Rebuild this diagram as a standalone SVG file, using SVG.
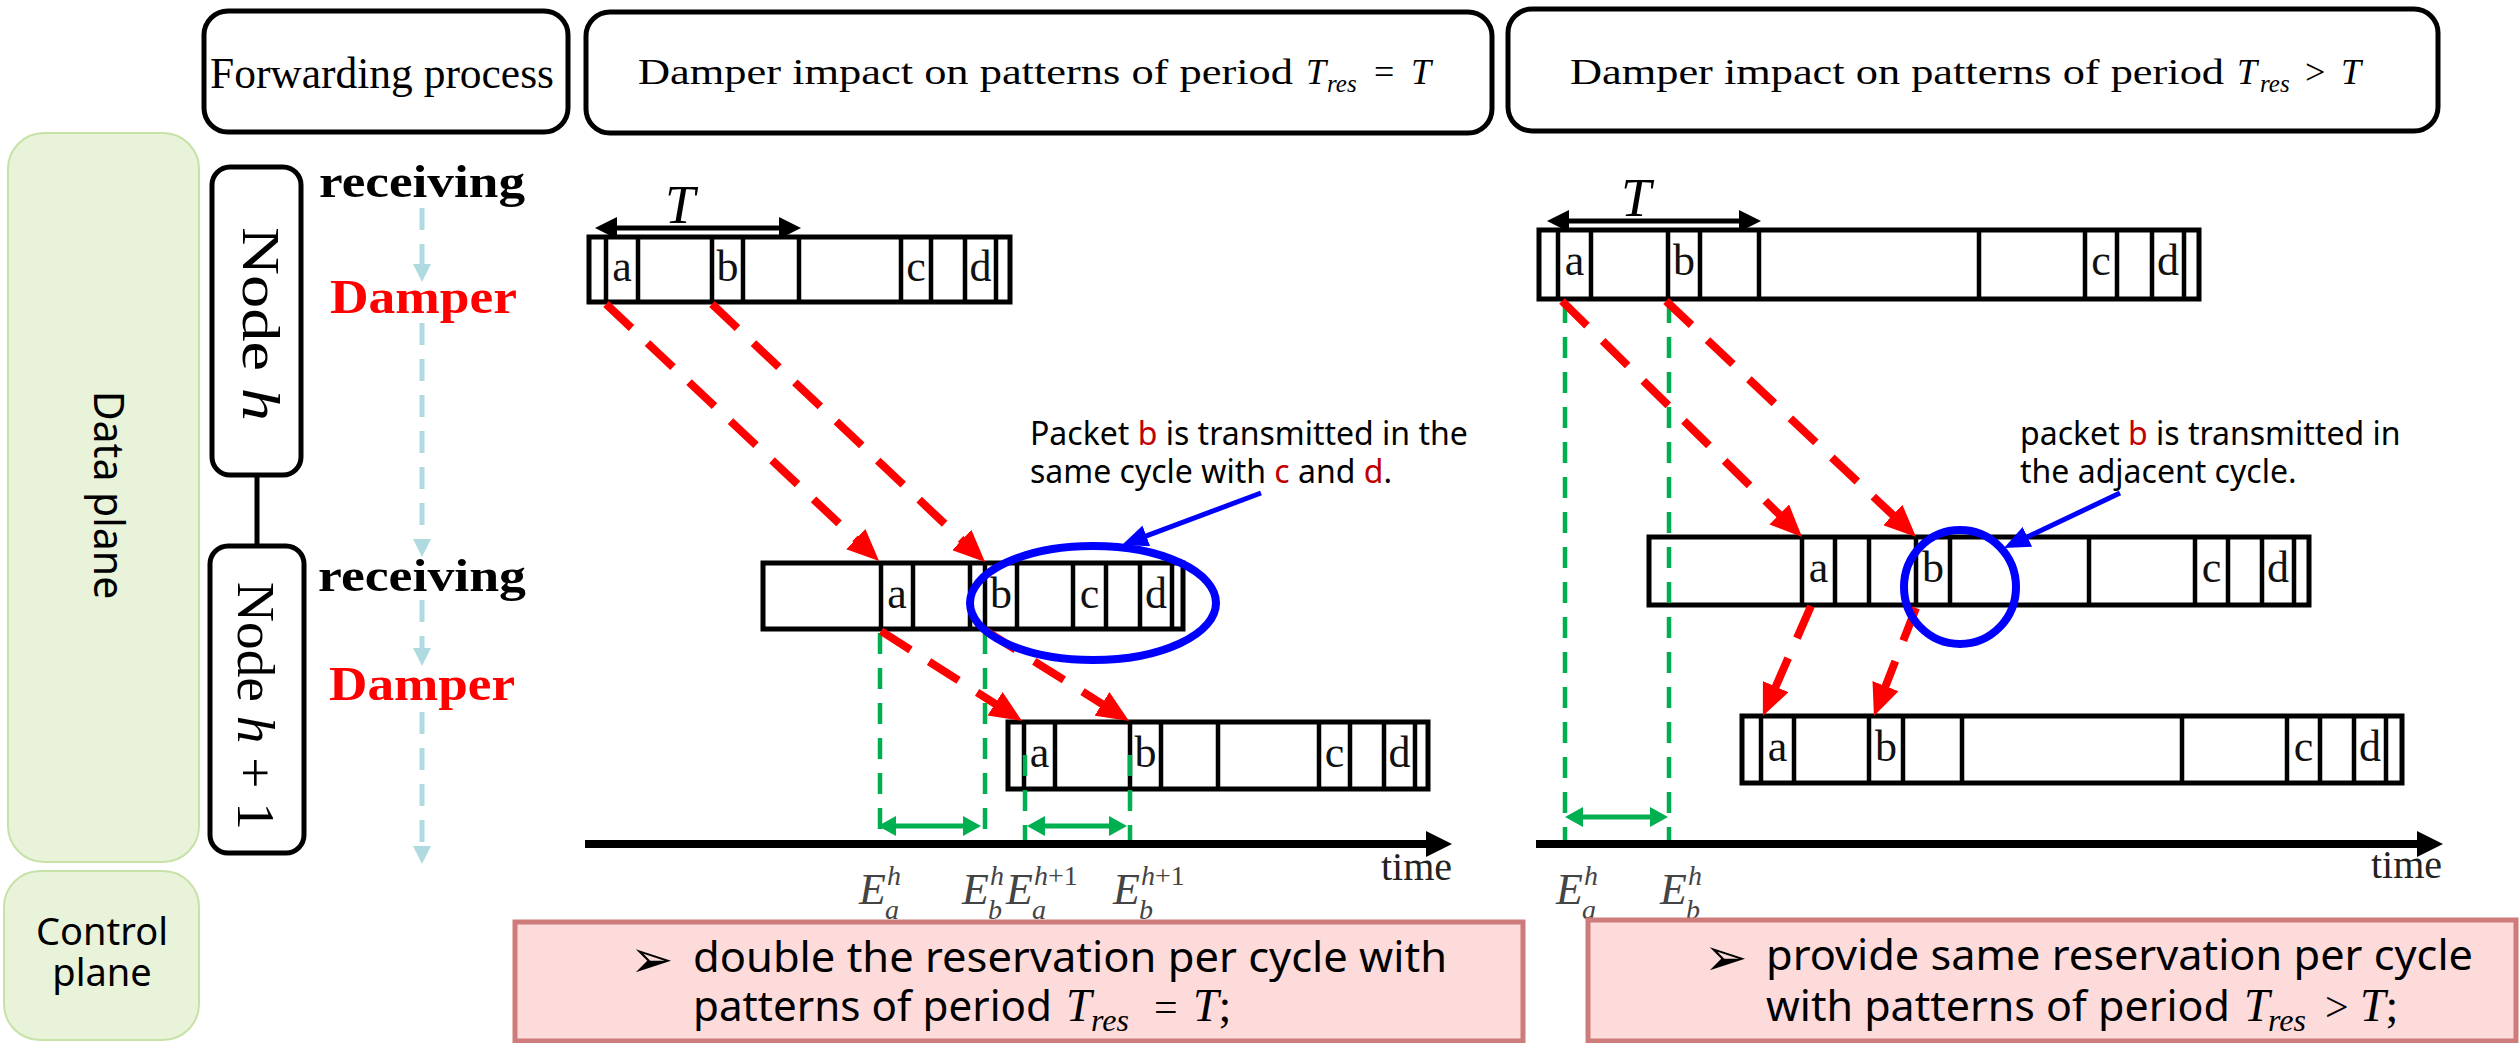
<svg xmlns="http://www.w3.org/2000/svg" width="2519" height="1043" viewBox="0 0 2519 1043">
<defs>
<style>
.hdr{fill:#fff;stroke:#000;stroke-width:5}
.plane{fill:#e8f3da;stroke:#c6e2a7;stroke-width:2}
.node{fill:#fff;stroke:#000;stroke-width:5}
.bar{fill:#fff;stroke:#000;stroke-width:5}
.cell{fill:none;stroke:#000;stroke-width:4.5}
.lt{font-family:"Liberation Serif","DejaVu Serif",serif;font-size:44px;text-anchor:middle;fill:#111}
.serif{font-family:"Liberation Serif","DejaVu Serif",serif}
.sans{font-family:"Noto Sans","Open Sans","DejaVu Sans",sans-serif}
.red{stroke:#ff0000;stroke-width:8;stroke-dasharray:35 22;fill:none}
.grn{stroke:#00b050;stroke-width:4.5;stroke-dasharray:21 14;fill:none}
.garr{stroke:#00b050;stroke-width:5;fill:none}
.blu{stroke:#0000ff;stroke-width:5;fill:none}
.ell{stroke:#0000ff;stroke-width:8;fill:none}
.lb{stroke:#afdadf;stroke-width:5;stroke-dasharray:22 14;fill:none}
.axis{stroke:#000;stroke-width:8;fill:none}
.tarr{stroke:#000;stroke-width:5;fill:none}
.pink{fill:#fddbdb;stroke:#cd7b7b;stroke-width:5}
.elab{font-family:"Liberation Serif","DejaVu Serif",serif;font-style:italic;fill:#444}
.dk{fill:#c00000}
</style>
<marker id="mRed" markerUnits="userSpaceOnUse" markerWidth="32" markerHeight="28" viewBox="0 0 32 28" refX="12" refY="14" orient="auto"><path d="M0,0 L32,14 L0,28 z" fill="#ff0000"/></marker>
<marker id="mBlue" markerUnits="userSpaceOnUse" markerWidth="26" markerHeight="22" viewBox="0 0 26 22" refX="12" refY="11" orient="auto"><path d="M0,0 L26,11 L0,22 z" fill="#0000ff"/></marker>
<marker id="mGrn" markerUnits="userSpaceOnUse" markerWidth="18" markerHeight="20" viewBox="0 0 18 20" refX="8" refY="10" orient="auto-start-reverse"><path d="M0,0 L18,10 L0,20 z" fill="#00b050"/></marker>
<marker id="mBlk" markerUnits="userSpaceOnUse" markerWidth="22" markerHeight="22" viewBox="0 0 22 22" refX="10" refY="11" orient="auto-start-reverse"><path d="M0,0 L22,11 L0,22 z" fill="#000"/></marker>
<marker id="mAxis" markerUnits="userSpaceOnUse" markerWidth="26" markerHeight="26" viewBox="0 0 26 26" refX="8" refY="13" orient="auto"><path d="M0,0 L26,13 L0,26 z" fill="#000"/></marker>
<marker id="mLb" markerUnits="userSpaceOnUse" markerWidth="18" markerHeight="18" viewBox="0 0 18 18" refX="8" refY="9" orient="auto"><path d="M0,0 L18,9 L0,18 z" fill="#afdadf"/></marker>
</defs>
<rect width="2519" height="1043" fill="#fff"/>

<!-- planes -->
<g id="data-plane">
<rect class="plane" x="8" y="133" width="191" height="729" rx="36"/>
<text class="sans" font-size="41" text-anchor="middle" transform="translate(94,495) rotate(90)">Data plane</text>
</g>
<g id="control-plane">
<rect class="plane" x="4" y="871" width="195" height="169" rx="36"/>
<text class="sans" font-size="38" text-anchor="middle" x="102" y="945">Control</text>
<text class="sans" font-size="38" text-anchor="middle" x="102" y="986">plane</text>
</g>

<!-- headers -->
<g id="hdr-forwarding">
<rect class="hdr" x="204" y="11" width="364" height="121" rx="24"/>
<text class="serif" font-size="45" x="210" y="88" textLength="344" lengthAdjust="spacingAndGlyphs">Forwarding process</text>
</g>
<g id="hdr-equal">
<rect class="hdr" x="586" y="12" width="906" height="121" rx="24"/>
<text class="serif" font-size="36" x="638" y="84" textLength="655" lengthAdjust="spacingAndGlyphs">Damper impact on patterns of period</text>
<text class="serif" font-size="36" font-style="italic" x="1306" y="84">T</text>
<text class="serif" font-size="25" font-style="italic" x="1327" y="92">res</text>
<text class="serif" font-size="36" x="1374" y="84">=</text>
<text class="serif" font-size="36" font-style="italic" x="1411" y="84">T</text>
</g>
<g id="hdr-greater">
<rect class="hdr" x="1508" y="9" width="930" height="122" rx="24"/>
<text class="serif" font-size="36" x="1570" y="84" textLength="654" lengthAdjust="spacingAndGlyphs">Damper impact on patterns of period</text>
<text class="serif" font-size="36" font-style="italic" x="2237" y="84">T</text>
<text class="serif" font-size="25" font-style="italic" x="2260" y="92">res</text>
<text class="serif" font-size="36" x="2305" y="84">&gt;</text>
<text class="serif" font-size="36" font-style="italic" x="2341" y="84">T</text>
</g>

<!-- nodes -->
<g id="node-h">
<rect class="node" x="212" y="167" width="89" height="308" rx="18"/>
<text class="serif" font-size="52" text-anchor="middle" transform="translate(243,324) rotate(90)" textLength="194" lengthAdjust="spacingAndGlyphs">Node <tspan font-style="italic">h</tspan></text>
</g>
<g id="node-h1">
<rect class="node" x="210" y="546" width="94" height="307" rx="18"/>
<text class="serif" font-size="52" text-anchor="middle" transform="translate(238,706) rotate(90)" textLength="248" lengthAdjust="spacingAndGlyphs">Node <tspan font-style="italic">h</tspan> + 1</text>
</g>

<!-- stage labels -->
<g id="stage-labels">
<text class="serif" font-size="46" font-weight="bold" x="319" y="197" textLength="206" lengthAdjust="spacingAndGlyphs">receiving</text>
<text class="serif" font-size="48" font-weight="bold" fill="#ff0000" x="330" y="313" textLength="187" lengthAdjust="spacingAndGlyphs">Damper</text>
<text class="serif" font-size="46" font-weight="bold" x="318" y="591" textLength="208" lengthAdjust="spacingAndGlyphs">receiving</text>
<text class="serif" font-size="48" font-weight="bold" fill="#ff0000" x="329" y="700" textLength="186" lengthAdjust="spacingAndGlyphs">Damper</text>
</g>

<!-- Panel 1 bars -->
<g id="p1-row1">
<rect class="bar" x="589" y="237" width="421" height="65"/>
<path class="cell" d="M606 237V302M638 237V302M712 237V302M743 237V302M799 237V302M901 237V302M931 237V302M965 237V302M996 237V302"/>
<text class="lt" x="622" y="281">a</text><text class="lt" x="727.5" y="281">b</text><text class="lt" x="916" y="281">c</text><text class="lt" x="980.5" y="281">d</text>
</g>
<g id="p1-row2">
<rect class="bar" x="763" y="563" width="420" height="66"/>
<path class="cell" d="M881 563V629M913 563V629M970 563V629M985 563V629M1017 563V629M1073 563V629M1106 563V629M1140 563V629M1172 563V629"/>
<text class="lt" x="897" y="608">a</text><text class="lt" x="1001" y="608">b</text><text class="lt" x="1089.5" y="608">c</text><text class="lt" x="1156" y="608">d</text>
</g>
<g id="p1-row3">
<rect class="bar" x="1008" y="722" width="420" height="67"/>
<path class="cell" d="M1024 722V789M1055 722V789M1130 722V789M1161 722V789M1218 722V789M1319 722V789M1350 722V789M1384 722V789M1415 722V789"/>
<text class="lt" x="1039.5" y="767">a</text><text class="lt" x="1145.5" y="767">b</text><text class="lt" x="1334.5" y="767">c</text><text class="lt" x="1399.5" y="767">d</text>
</g>

<!-- Panel 2 bars -->
<g id="p2-row1">
<rect class="bar" x="1539" y="230" width="660" height="69"/>
<path class="cell" d="M1558 230V299M1591 230V299M1668 230V299M1700 230V299M1759 230V299M1979 230V299M2085 230V299M2117 230V299M2152 230V299M2184 230V299"/>
<text class="lt" x="1574.5" y="275">a</text><text class="lt" x="1684" y="275">b</text><text class="lt" x="2101" y="275">c</text><text class="lt" x="2168" y="275">d</text>
</g>
<g id="p2-row2">
<rect class="bar" x="1649" y="537" width="660" height="68"/>
<path class="cell" d="M1802 537V605M1835 537V605M1869 537V605M1916 537V605M1950 537V605M2089 537V605M2195 537V605M2228 537V605M2262 537V605M2294 537V605"/>
<text class="lt" x="1818.5" y="582">a</text><text class="lt" x="1933" y="582">b</text><text class="lt" x="2211.5" y="582">c</text><text class="lt" x="2278" y="582">d</text>
</g>
<g id="p2-row3">
<rect class="bar" x="1742" y="716" width="660" height="67"/>
<path class="cell" d="M1761 716V783M1794 716V783M1869 716V783M1903 716V783M1962 716V783M2182 716V783M2287 716V783M2320 716V783M2354 716V783M2386 716V783"/>
<text class="lt" x="1777.5" y="761">a</text><text class="lt" x="1886" y="761">b</text><text class="lt" x="2303.5" y="761">c</text><text class="lt" x="2370" y="761">d</text>
</g>

<!-- T labels -->
<g id="t-labels">
<text class="serif" font-size="54" font-style="italic" x="665" y="223">T</text>
<text class="serif" font-size="54" font-style="italic" x="1621" y="216">T</text>
</g>

<!-- annotations -->
<g id="note-p1">
<text class="sans" font-size="32" x="1030" y="445">Packet <tspan class="dk">b</tspan> is transmitted in the</text>
<text class="sans" font-size="32" x="1030" y="483">same cycle with <tspan class="dk">c</tspan> and <tspan class="dk">d</tspan>.</text>
</g>
<g id="note-p2">
<text class="sans" font-size="32" x="2020" y="445">packet <tspan class="dk">b</tspan> is transmitted in</text>
<text class="sans" font-size="32" x="2020" y="483">the adjacent cycle.</text>
</g>

<!-- axis labels -->
<g id="axis-labels">
<text class="serif" font-size="40" text-anchor="end" x="1452" y="880" fill="#222">time</text>
<text class="serif" font-size="40" text-anchor="end" x="2442" y="878" fill="#222">time</text>
<text class="elab" font-size="44" x="859" y="904">E</text><text class="elab" font-size="28" x="887" y="885">h</text><text class="elab" font-size="28" x="885" y="919">a</text>
<text class="elab" font-size="44" x="962" y="904">E</text><text class="elab" font-size="28" x="990" y="885">h</text><text class="elab" font-size="28" x="988" y="919">b</text>
<text class="elab" font-size="44" x="1006" y="904">E</text><text class="elab" font-size="28" x="1034" y="885">h<tspan font-style="normal">+1</tspan></text><text class="elab" font-size="28" x="1032" y="919">a</text>
<text class="elab" font-size="44" x="1113" y="904">E</text><text class="elab" font-size="28" x="1141" y="885">h<tspan font-style="normal">+1</tspan></text><text class="elab" font-size="28" x="1139" y="919">b</text>
<text class="elab" font-size="44" x="1556" y="904">E</text><text class="elab" font-size="28" x="1584" y="885">h</text><text class="elab" font-size="28" x="1582" y="919">a</text>
<text class="elab" font-size="44" x="1660" y="904">E</text><text class="elab" font-size="28" x="1688" y="885">h</text><text class="elab" font-size="28" x="1686" y="919">b</text>
</g>

<!-- connectors -->
<g id="connectors">
<path class="lb" d="M422 208V272" marker-end="url(#mLb)"/>
<path class="lb" d="M422 323V547" marker-end="url(#mLb)"/>
<path class="lb" d="M422 600V656" marker-end="url(#mLb)"/>
<path class="lb" d="M422 712V854" marker-end="url(#mLb)"/>
<path class="node" style="fill:none" d="M257 475V546"/>

<path class="tarr" d="M607 228H789" marker-start="url(#mBlk)" marker-end="url(#mBlk)"/>
<path class="tarr" d="M1559 221H1749" marker-start="url(#mBlk)" marker-end="url(#mBlk)"/>

<path class="grn" d="M880 633V844"/>
<path class="grn" d="M985 633V844"/>
<path class="grn" d="M1025 755V844"/>
<path class="grn" d="M1130 755V844"/>
<path class="grn" d="M1565 302V844"/>
<path class="grn" d="M1669 302V844"/>

<path class="garr" d="M888 826H971" marker-start="url(#mGrn)" marker-end="url(#mGrn)"/>
<path class="garr" d="M1037 826H1117" marker-start="url(#mGrn)" marker-end="url(#mGrn)"/>
<path class="garr" d="M1575 817H1658" marker-start="url(#mGrn)" marker-end="url(#mGrn)"/>

<path class="red" d="M606 304L864.5 547.3" marker-end="url(#mRed)"/>
<path class="red" d="M712 304L970.5 548.2" marker-end="url(#mRed)"/>
<path class="red" d="M881 631L1005.1 710.2" marker-end="url(#mRed)"/>
<path class="red" d="M986 631L1112.1 710.3" marker-end="url(#mRed)"/>
<path class="red" d="M1562 301L1787.8 522.9" marker-end="url(#mRed)"/>
<path class="red" d="M1666 301L1901.5 523.2" marker-end="url(#mRed)"/>
<path class="red" d="M1811 606L1770.9 697.6" marker-end="url(#mRed)"/>
<path class="red" d="M1916 608L1881.2 697.3" marker-end="url(#mRed)"/>

<ellipse class="ell" cx="1093" cy="603" rx="123" ry="57"/>
<ellipse class="ell" cx="1960" cy="587" rx="56" ry="57"/>
<path class="blu" d="M1261 493L1135.1 540.1" marker-end="url(#mBlue)"/>
<path class="blu" d="M2120 493L2016.6 542" marker-end="url(#mBlue)"/>

<path class="axis" d="M585 844H1434" marker-end="url(#mAxis)"/>
<path class="axis" d="M1536 844H2425" marker-end="url(#mAxis)"/>
</g>

<!-- conclusion boxes -->
<g id="concl-1">
<rect class="pink" x="515" y="922" width="1008" height="119"/>
<text font-family="DejaVu Sans,sans-serif" font-size="52" x="630" y="977">➢</text>
<text class="sans" font-size="42" x="693" y="972" textLength="754" lengthAdjust="spacingAndGlyphs">double the reservation per cycle with</text>
<text class="sans" font-size="42" x="693" y="1021" textLength="359" lengthAdjust="spacingAndGlyphs">patterns of period</text>
<text class="serif" font-size="46" font-style="italic" x="1066" y="1021">T</text>
<text class="serif" font-size="32" font-style="italic" x="1091" y="1031">res</text>
<text class="serif" font-size="42" x="1154" y="1021">=</text>
<text class="serif" font-size="46" font-style="italic" x="1193" y="1021">T<tspan font-style="normal">;</tspan></text>
</g>
<g id="concl-2">
<rect class="pink" x="1588" y="920" width="928" height="121"/>
<text font-family="DejaVu Sans,sans-serif" font-size="52" x="1704" y="975">➢</text>
<text class="sans" font-size="42" x="1766" y="970" textLength="707" lengthAdjust="spacingAndGlyphs">provide same reservation per cycle</text>
<text class="sans" font-size="42" x="1766" y="1021" textLength="464" lengthAdjust="spacingAndGlyphs">with patterns of period</text>
<text class="serif" font-size="46" font-style="italic" x="2244" y="1021">T</text>
<text class="serif" font-size="32" font-style="italic" x="2268" y="1031">res</text>
<text class="serif" font-size="42" x="2325" y="1021">&gt;</text>
<text class="serif" font-size="46" font-style="italic" x="2360" y="1021">T<tspan font-style="normal">;</tspan></text>
</g>
</svg>
